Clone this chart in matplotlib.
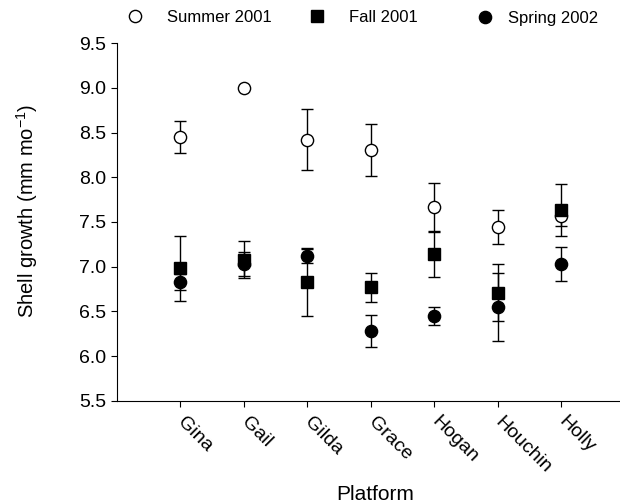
import numpy as np
import matplotlib
matplotlib.use('Agg')
import matplotlib.pyplot as plt

plt.rcParams['font.family'] = ['Liberation Sans', 'DejaVu Sans']
plt.rcParams['mathtext.default'] = 'regular'

# dados
plataformas = ['Gina', 'Gail', 'Gilda', 'Grace', 'Hogan', 'Houchin', 'Holly']
verao = [8.45, 9.00, 8.42, 8.31, 7.67, 7.44, 7.57]
verao_err = [0.18, 0.0, 0.34, 0.29, 0.27, 0.19, 0.11]
outono = [6.98, 7.08, 6.83, 6.77, 7.14, 6.71, 7.63]
outono_err = [0.36, 0.21, 0.38, 0.16, 0.25, 0.32, 0.29]
primavera = [6.83, 7.03, 7.12, 6.28, 6.45, 6.55, 7.03]
primavera_err = [0.09, 0.13, 0.08, 0.18, 0.10, 0.38, 0.19]

x = np.arange(1, len(plataformas) + 1)

fig = plt.figure(figsize=(6.2, 5.04), dpi=100)
ax = fig.add_axes([116.7/620, 1 - 400.7/504, (625 - 116.7)/620, (400.7 - 43.3)/504])

series = [
    (verao, verao_err, 'o', 'white', 'Summer 2001'),
    (outono, outono_err, 's', 'black', 'Fall 2001'),
    (primavera, primavera_err, 'o', 'black', 'Spring 2002'),
]
handles = []
for vals, errs, mk, fc, lab in series:
    eb = ax.errorbar(x, vals, yerr=errs, fmt=mk, mfc=fc, mec='black', mew=1.0,
                     ms=8.8 if mk == 'o' else 8.5, ecolor='black', elinewidth=1.0,
                     capsize=4.3, capthick=1.0, label=lab, clip_on=False)
    handles.append(eb[0])

ax.set_xlim(0, 8)
ax.set_ylim(5.5, 9.5)
ax.set_yticks(np.arange(5.5, 9.51, 0.5))
ax.set_yticklabels([f'{v:.1f}' for v in np.arange(5.5, 9.51, 0.5)])
ax.set_xticks(x)
ax.set_xticklabels(plataformas, rotation=-45, ha='left', va='center',
                   rotation_mode='anchor')

ax.spines['top'].set_visible(False)
ax.spines['right'].set_visible(False)
ax.spines['left'].set_linewidth(0.8)
ax.spines['bottom'].set_linewidth(0.8)
ax.tick_params(axis='both', direction='out', length=4, width=0.8, labelsize=14)
ax.tick_params(axis='x', pad=9.5)

ax.set_xlabel('Platform', fontsize=15, va='top')
ax.xaxis.set_label_coords((375 - 116.7) / 508.3, (400.7 - 485) / 357.4)
ax.set_ylabel('Shell growth (mm mo$^{-1}$)', fontsize=14.5)
ax.yaxis.set_label_coords((40 - 116.7) / 508.3, (400.7 - 211) / 357.4)

# legenda em tres partes, no topo
pos_leg = [135, 317, 485]
pads = [1.4, 1.4, 0.85]
desloc = [0, 0, 1.5]
for h, lab, px, pd, dy in zip(handles, ['Summer 2001', 'Fall 2001', 'Spring 2002'],
                              pos_leg, pads, desloc):
    fig.legend(handles=[h], labels=[lab], loc='center left',
               bbox_to_anchor=((px - 8) / 620, 1 - (17 + dy) / 504), frameon=False,
               fontsize=12, handlelength=1.0, handletextpad=pd,
               borderpad=0, borderaxespad=0)

plt.savefig('out.png', dpi=100)
